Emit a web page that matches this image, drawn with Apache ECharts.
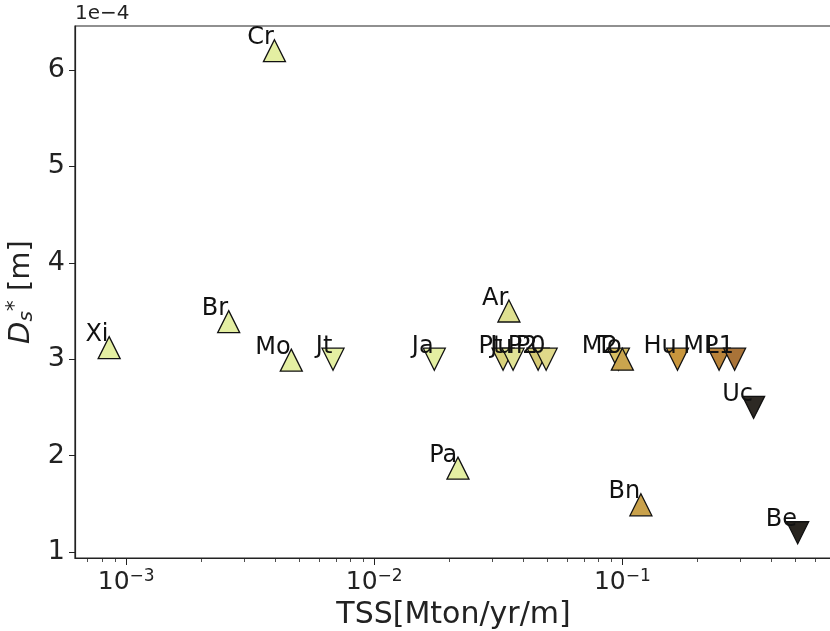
<!DOCTYPE html>
<html>
<head>
<meta charset="utf-8">
<script src="https://cdn.jsdelivr.net/npm/echarts@6/dist/echarts.min.js"></script>
<style>html,body{margin:0;padding:0;background:#fff}#c{width:830px;height:631px}</style>
</head>
<body>
<div id="c"></div>
<script>
// Site labels
var names = ['Xi','Br','Mo','Jt','Cr','Ja','Pa','Ar','Pt','Ju','P2','P0','M2','To','Bn','Hu','MP','L1','Uc','Be'];
// TSS [Mton/yr/m]
var tss = [8.54e-4, 2.59e-3, 4.63e-3, 6.82e-3, 3.96e-3, 0.01746, 0.02175, 0.0349, 0.03305, 0.03627, 0.04576, 0.0493, 0.0964, 0.100, 0.1188, 0.1668, 0.2454, 0.2835, 0.3382, 0.509];
// D_s* in units of 1e-4 m
var ds = [3.12, 3.39, 2.99, 3.00, 6.20, 3.00, 1.87, 3.50, 3.00, 3.00, 3.00, 3.00, 3.00, 3.00, 1.49, 3.00, 3.00, 3.00, 2.50, 1.20];
// marker direction
var dir = ['up','up','up','down','up','down','up','up','down','down','down','down','down','up','up','down','down','down','down','down'];
// marker colours
var colors = ['#e4efa2','#e4efa2','#e4efa2','#e4efa2','#e4efa2','#e4efa2','#e4efa2','#dfe090','#d9d27c','#e1e396','#d6ca74','#dfd98a','#d6bd62','#caa54e','#c9a14b','#c8963d','#b9833a','#a97338','#2d2924','#28241f'];
// ticks
var xMajor = [1e-3, 1e-2, 1e-1];
var xMinor = [7e-4,8e-4,9e-4,2e-3,3e-3,4e-3,5e-3,6e-3,7e-3,8e-3,9e-3,2e-2,3e-2,4e-2,5e-2,6e-2,7e-2,8e-2,9e-2,0.2,0.3,0.4,0.5,0.6,0.7];
var yTicks = [1,2,3,4,5,6];

var FONT = 'DejaVu Sans';
var chart = echarts.init(document.getElementById('c'), null, {renderer: 'canvas'});

var data = names.map(function (n, i) {
  return {
    name: n,
    value: [tss[i], ds[i]],
    symbolRotate: dir[i] === 'down' ? 180 : 0,
    itemStyle: {color: colors[i]}
  };
});

var option = {
  animation: false,
  backgroundColor: '#fff',
  grid: {left: 75, right: -2, top: 26, bottom: 73, outerBoundsMode: 'none', containLabel: false, show: true, borderColor: '#222', borderWidth: 1.2, backgroundColor: 'transparent'},
  graphic: [{type: 'text', left: 75, top: 4, style: {text: '1e\u22124', font: '20px "DejaVu Sans"', fill: '#222'}}],
  xAxis: [{
    type: 'log', min: 6.22e-4, max: 0.70, position: 'bottom',
    axisLine: {show: true, lineStyle: {color: '#222', width: 1.2}},
    axisTick: {show: true, customValues: xMajor, length: 7, lineStyle: {color: '#222', width: 1}},
    axisLabel: {
      customValues: xMajor, margin: 10, color: '#222',
      formatter: function (v) { var e = Math.round(Math.log10(v)); return '{b|10}{s|\u2212' + Math.abs(e) + '}'; },
      rich: {b: {fontSize: 25, fontFamily: FONT, color: '#222'}, s: {fontSize: 17, fontFamily: FONT, color: '#222', padding: [0, 0, 12, 0]}}
    },
    splitLine: {show: false},
    name: 'TSS[Mton/yr/m]', nameLocation: 'middle', nameGap: 39,
    nameTextStyle: {fontSize: 30, fontFamily: FONT, color: '#222'}
  }, {
    type: 'log', min: 6.22e-4, max: 0.70, position: 'bottom', offset: 0,
    axisLine: {show: false},
    axisTick: {show: true, customValues: xMinor, length: 4, lineStyle: {color: '#222', width: 0.8}},
    axisLabel: {show: false},
    splitLine: {show: false}
  }],
  yAxis: [{
    type: 'value', min: 0.938, max: 6.456,
    axisLine: {show: true, lineStyle: {color: '#222', width: 1.2}},
    axisTick: {show: true, customValues: yTicks, length: 6, lineStyle: {color: '#222', width: 1}},
    axisLabel: {customValues: yTicks, margin: 10, fontSize: 27, fontFamily: FONT, color: '#222'},
    splitLine: {show: false},
    name: '{i|D}{sub|s}{sup|*}{n| [m]}', nameLocation: 'middle', nameGap: 30, nameRotate: 90,
    nameTextStyle: {
      fontSize: 28, fontFamily: FONT, color: '#222',
      rich: {
        i: {fontSize: 29, fontStyle: 'italic', fontFamily: FONT, color: '#222'},
        sub: {fontSize: 20, fontStyle: 'italic', fontFamily: FONT, color: '#222', padding: [10, 0, 0, 0]},
        sup: {fontSize: 22, fontFamily: FONT, color: '#222', padding: [0, 0, 14, 0]},
        n: {fontSize: 29, fontFamily: FONT, color: '#222'}
      }
    }
  }],
  series: [{
    type: 'scatter', xAxisIndex: 0, yAxisIndex: 0,
    symbol: 'triangle', symbolSize: 22,
    itemStyle: {borderColor: '#111', borderWidth: 1.3, opacity: 1},
    label: {
      show: true, formatter: '{b}', position: [11, 11], align: 'right', verticalAlign: 'bottom',
      fontSize: 24, fontFamily: FONT, color: '#111'
    },
    labelLayout: {hideOverlap: false},
    emphasis: {disabled: true},
    data: data
  }]
};
chart.setOption(option);
</script>
</body>
</html>
